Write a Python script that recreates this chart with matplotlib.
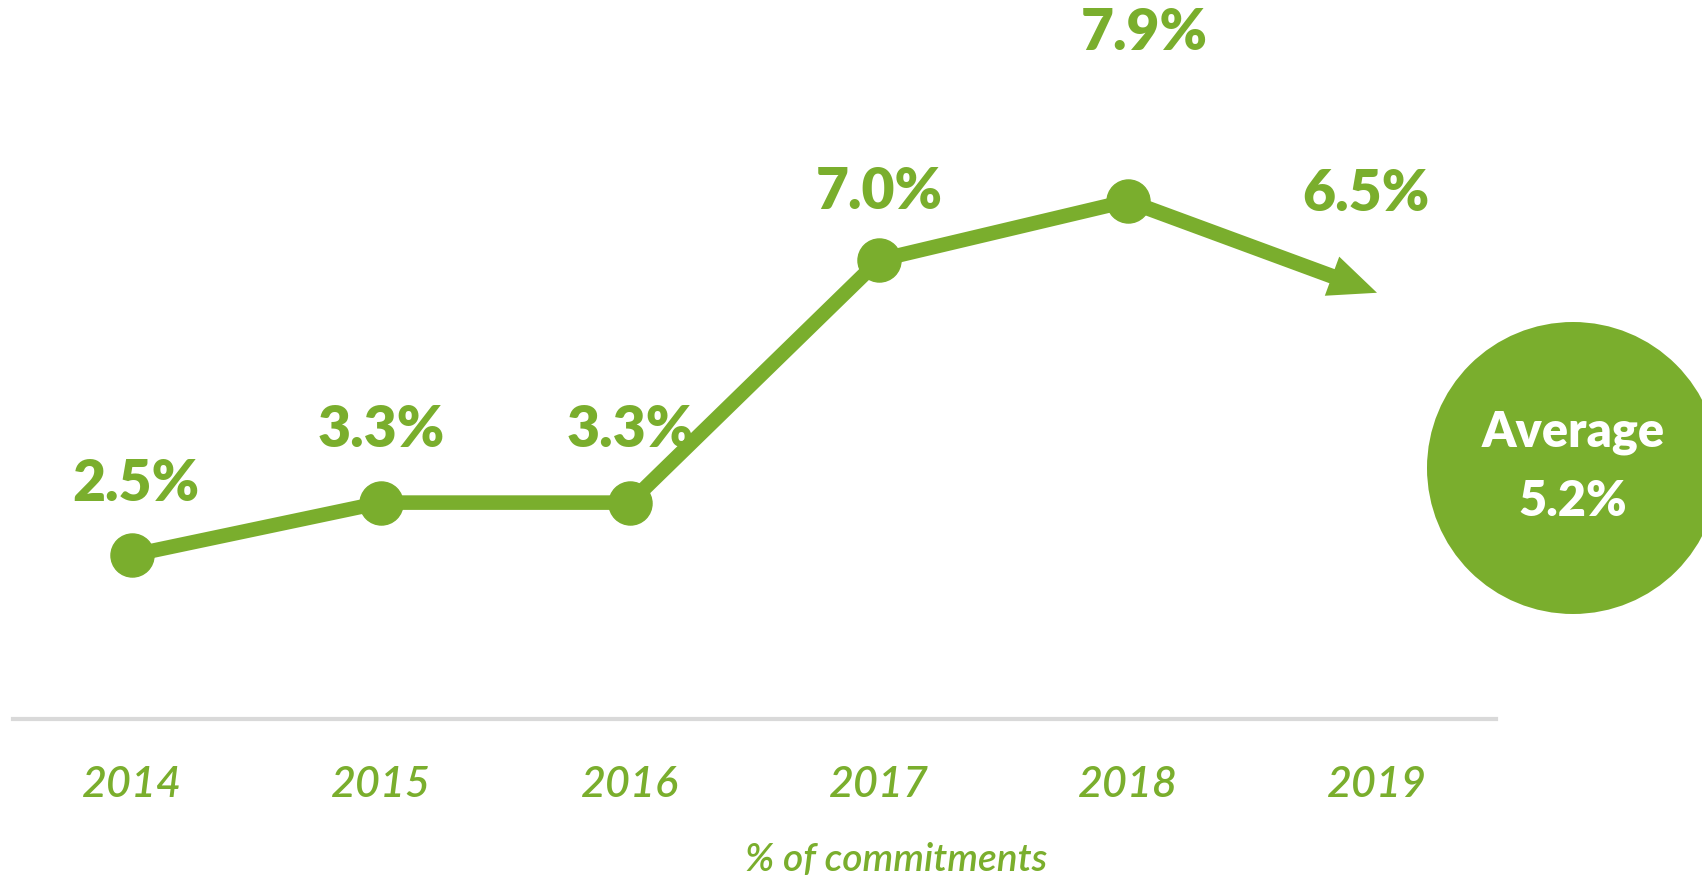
import matplotlib
matplotlib.use("Agg")
import matplotlib.pyplot as plt
from matplotlib.patches import Ellipse

# ---------- data ----------
years = ["2014", "2015", "2016", "2017", "2018", "2019"]
share = [2.5, 3.3, 3.3, 7.0, 7.9, 6.5]
labels = ["2.5%", "3.3%", "3.3%", "7.0%", "7.9%", "6.5%"]
average_label = "Average"
average_value = "5.2%"
axis_caption = "% of commitments"

# label offsets in points (dx, dy) -- layout only
label_offsets = [(3, 52), (0, 53), (0, 53), (0, 50), (12, 122), (-8, 72)]

GREEN = "#7AAE2D"
GREY = "#D9D9D9"
W, H = 1702, 879

plt.rcParams["font.family"] = ["Lato", "DejaVu Sans"]

fig = plt.figure(figsize=(W / 100, H / 100), dpi=100)
ax = fig.add_axes([13 / W, 1 - 720 / H, (1496 - 13) / W, 720 / H])

x = list(range(len(years)))

# solid line + markers up to 2018, filled arrow into 2019
ax.annotate("", xy=(x[-1], share[-1]), xytext=(x[-2], share[-2]),
            arrowprops=dict(arrowstyle="simple,head_length=2.3,head_width=2.0,tail_width=0.72",
                            color=GREEN, lw=0, shrinkA=0, shrinkB=0,
                            mutation_scale=15),
            zorder=2, annotation_clip=False)
ax.plot(x[:-1], share[:-1], color=GREEN, lw=10.5, marker="o", ms=31,
        solid_capstyle="round", zorder=3, clip_on=False)

for xi, yi, lab, (dx, dy) in zip(x, share, labels, label_offsets):
    ax.annotate(lab, (xi, yi), xytext=(dx, dy), textcoords="offset points",
                ha="center", va="center", fontsize=41, fontweight="heavy",
                color=GREEN, annotation_clip=False)

ax.set_xlim(-0.478, 5.478)
ax.set_ylim(0, 10.98)
ax.set_yticks([])
ax.set_xticks(x)
ax.set_xticklabels(years, fontsize=31, fontstyle="italic", fontweight="semibold",
                   color=GREEN)
ax.tick_params(axis="x", length=0, pad=33)
for s in ["top", "left", "right"]:
    ax.spines[s].set_visible(False)
ax.spines["bottom"].set_color(GREY)
ax.spines["bottom"].set_linewidth(3)
ax.patch.set_visible(False)

fig.text(896 / W, 1 - 860 / H, axis_caption, ha="center", va="center",
         fontsize=28, fontstyle="italic", fontweight="semibold", color=GREEN)

# average bubble on the right edge
r = 146
fig.add_artist(Ellipse((1573 / W, 1 - 469 / H), 2 * r / W, 2 * r / H,
                       transform=fig.transFigure, color=GREEN, lw=0))
fig.text(1573 / W, 1 - 433 / H, average_label, ha="center", va="center",
         fontsize=35, fontweight="heavy", color="white")
fig.text(1573 / W, 1 - 502 / H, average_value, ha="center", va="center",
         fontsize=35, fontweight="heavy", color="white")

fig.savefig("out.png", dpi=100)
